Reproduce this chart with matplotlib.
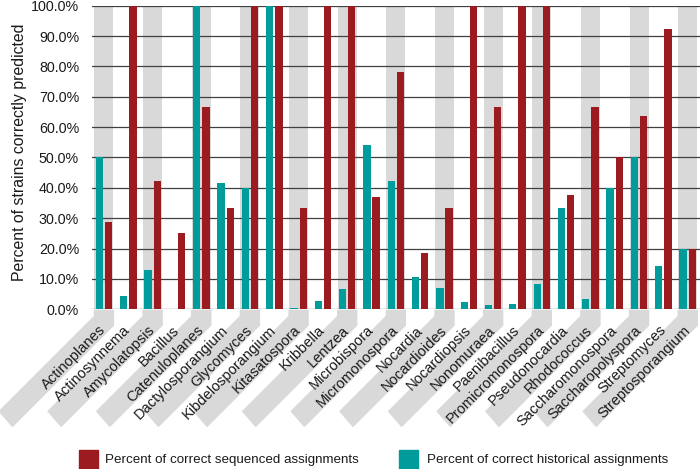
import numpy as np
import matplotlib
matplotlib.use('Agg')
from matplotlib import pyplot as plt
from matplotlib.patches import Polygon, Rectangle
from matplotlib.transforms import IdentityTransform

plt.rcParams['font.family'] = ['Liberation Sans', 'DejaVu Sans']
plt.rcParams['font.size'] = 10

genera = ['Actinoplanes', 'Actinosynnema', 'Amycolatopsis', 'Bacillus', 'Catenuloplanes',
          'Dactylosporangium', 'Glycomyces', 'Kibdelosporangium', 'Kitasatospora', 'Kribbella',
          'Lentzea', 'Microbispora', 'Micromonospora', 'Nocardia', 'Nocardioides',
          'Nocardiopsis', 'Nonomuraea', 'Paenibacillus', 'Promicromonospora', 'Pseudonocardia',
          'Rhodococcus', 'Saccharomonospora', 'Saccharopolyspora', 'Streptomyces',
          'Streptosporangium']
sequenced = [28.6, 100, 42.1, 25.0, 66.7, 33.3, 100, 100, 33.3, 100,
             100, 37.1, 78.1, 18.6, 33.3, 100, 66.7, 100, 100, 37.5,
             66.7, 50.0, 63.6, 92.3, 20.0]
historical = [50.0, 4.3, 12.9, 0.0, 100, 41.7, 40.0, 100, 0.5, 2.6,
              6.7, 54.2, 42.4, 10.5, 7.0, 2.3, 1.4, 1.8, 8.2, 33.3,
              3.4, 40.0, 50.0, 14.3, 20.0]
legend_labels = ['Percent of correct sequenced assignments',
                 'Percent of correct historical assignments']

RED = '#9B1B21'
TEAL = '#009B9B'
GREY = '#D9D9D9'
TXT = '#1a1a1a'

W, H = 700, 469
fig = plt.figure(figsize=(W / 100, H / 100), dpi=100)
ax = fig.add_axes([91.8 / W, (H - 309.3) / H, (699.9 - 91.8) / W, (309.3 - 5.7) / H])

x = np.arange(len(genera))
shaded = x[::2]

# alternating grey bands inside the plot
ax.bar(shaded, 100, width=0.78, color=GREY, zorder=0)
ax.bar(x - 0.19, historical, width=0.30, color=TEAL, zorder=3)
ax.bar(x + 0.19, sequenced, width=0.30, color=RED, zorder=3)

ax.set_xlim(-0.5, len(genera) - 0.5)
ax.set_ylim(0, 100)
ax.set_yticks(np.arange(0, 101, 10))
ax.set_yticklabels([f'{v:.1f}%' for v in np.arange(0, 101, 10)])
ax.yaxis.grid(True, color='#404040', linewidth=0.9, zorder=1)
for s in ax.spines.values():
    s.set_visible(False)
ax.tick_params(axis='y', length=0, pad=9.2, labelsize=10.3, colors=TXT)
ax.tick_params(axis='x', length=0, pad=13.5, labelsize=10.5, colors=TXT)
ax.set_xticks(x)
ax.set_xticklabels(genera, rotation=45, ha='right', va='center', rotation_mode='anchor')
ax.set_ylabel('Percent of strains correctly predicted', fontsize=11.4, color=TXT)
ax.yaxis.set_label_coords(27 / W, (H - 152) / H, transform=fig.transFigure)

# grey label bands continuing below the axis (pixel offsets)
fig.canvas.draw()
y0 = ax.get_window_extent().y0
h = 9.5
offsets = [(-h, 1), (h, 1), (h, 16), (h - 101, 117), (-104.5, 102), (-h, 7)]
for xi in shaded:
    cx = ax.transData.transform((xi, 0))[0]
    pts = [(cx + dx, y0 - dy) for dx, dy in offsets]
    fig.add_artist(Polygon(pts, closed=True, color=GREY, transform=IdentityTransform(), zorder=0))

# legend
for (sx, tx), col, lab in zip([(79, 105), (399, 427)], [RED, TEAL], legend_labels):
    fig.add_artist(Rectangle((sx / W, 0), 19 / W, 19 / H, color=col, transform=fig.transFigure))
    fig.text(tx / W, (H - 459.5) / H, lab, va='center', ha='left', fontsize=9.6, color=TXT)

fig.savefig('out.png', dpi=100)
